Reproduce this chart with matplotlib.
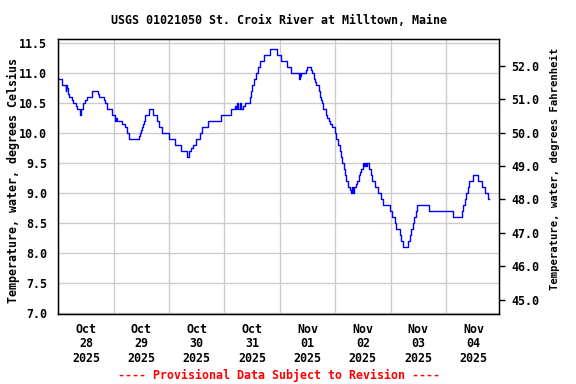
import numpy as np
import pandas as pd
import matplotlib
matplotlib.use('Agg')
from matplotlib import pyplot as plt
import matplotlib.dates as mdates
from matplotlib.ticker import FixedLocator, FormatStrFormatter

# hours since 2025-10-28 00:00 and water temperature (deg C), step breakpoints
hours = [0.0, 1.4, 3.2, 3.5, 3.6, 4.0, 4.3, 4.6, 6.1, 6.5, 7.5, 7.9, 9.4, 9.7,
         10.8, 11.5, 12.3, 14.4, 14.7, 17.3, 17.7, 19.8, 20.2, 21.2, 23.1, 24.5,
         24.8, 25.3, 27.8, 28.9, 29.6, 30.6, 35.1, 35.5, 35.9, 36.4, 36.8, 37.2,
         37.7, 39.3, 40.9, 42.6, 43.7, 45.0, 47.9, 50.5, 53.4, 55.6, 56.7, 57.7,
         58.5, 59.9, 61.3, 62.5, 64.9, 70.7, 75.0, 76.5, 77.0, 77.5, 78.0, 78.8,
         79.4, 80.0, 80.8, 83.0, 83.7, 84.1, 84.9, 85.6, 86.6, 87.3, 89.2, 91.6,
         95.0, 96.7, 99.1, 101.0, 104.3, 104.6, 104.8, 105.2, 107.5, 107.8, 109.7,
         110.1, 110.9, 111.4, 111.9, 112.9, 113.3, 114.0, 114.5, 114.7, 116.2,
         116.6, 117.2, 117.6, 118.5, 119.8, 120.5, 121.2, 121.9, 122.7, 123.1,
         123.7, 124.1, 124.8, 125.6, 126.6, 127.0, 127.3, 127.7, 128.0, 128.9,
         129.4, 130.3, 130.9, 131.3, 132.0, 132.5, 132.8, 133.5, 133.8, 134.7,
         135.4, 136.1, 137.1, 138.5, 140.0, 140.7, 143.6, 144.6, 145.8, 146.5,
         148.0, 148.4, 149.4, 151.5, 152.3, 153.0, 153.7, 154.4, 155.1, 155.4,
         160.6, 171.3, 175.1, 175.6, 176.4, 176.8, 177.5, 178.2, 179.6, 182.1,
         183.7, 185.1, 186.2, 186.6]
temp_c = [10.9, 10.8, 10.7, 10.8, 10.75, 10.7, 10.65, 10.6, 10.55, 10.5, 10.45, 10.4, 10.3, 10.4,
          10.5, 10.55, 10.6, 10.65, 10.7, 10.65, 10.6, 10.55, 10.5, 10.4, 10.3, 10.2,
          10.25, 10.2, 10.15, 10.1, 10.0, 9.9, 9.95, 10.0, 10.05, 10.1, 10.15, 10.2,
          10.3, 10.4, 10.3, 10.2, 10.1, 10.0, 9.9, 9.8, 9.7, 9.6, 9.7, 9.75,
          9.8, 9.9, 10.0, 10.1, 10.2, 10.3, 10.4, 10.45, 10.4, 10.5, 10.4, 10.5,
          10.4, 10.45, 10.5, 10.6, 10.7, 10.8, 10.9, 11.0, 11.1, 11.2, 11.3, 11.4,
          11.3, 11.2, 11.1, 11.0, 10.9, 11.0, 10.95, 11.0, 11.05, 11.1, 11.05,
          11.0, 10.9, 10.85, 10.8, 10.7, 10.6, 10.55, 10.5, 10.4, 10.3,
          10.25, 10.2, 10.15, 10.1, 10.0, 9.9, 9.8, 9.7, 9.6, 9.5,
          9.4, 9.3, 9.2, 9.1, 9.05, 9.0, 9.1, 9.0, 9.1, 9.15,
          9.2, 9.3, 9.35, 9.4, 9.5, 9.45, 9.5, 9.45, 9.5, 9.4,
          9.3, 9.2, 9.1, 9.0, 8.9, 8.8, 8.7, 8.6, 8.5, 8.4,
          8.3, 8.2, 8.1, 8.2, 8.3, 8.4, 8.5, 8.6, 8.7, 8.8,
          8.7, 8.6, 8.7, 8.8, 8.9, 9.0, 9.1, 9.2, 9.3, 9.2,
          9.1, 9.0, 8.9, 8.9]

left_ticks = [7.0, 7.5, 8.0, 8.5, 9.0, 9.5, 10.0, 10.5, 11.0, 11.5]
right_ticks = [45.0, 46.0, 47.0, 48.0, 49.0, 50.0, 51.0, 52.0]

font = 'DejaVu Sans Mono'
fs = 8.4
plt.rcParams['font.family'] = font
plt.rcParams['font.weight'] = 'bold'
plt.rcParams['font.size'] = fs

start = pd.Timestamp('2025-10-28 00:00')
times = start + pd.to_timedelta(hours, unit='h')

fig = plt.figure(figsize=(5.76, 3.84), dpi=100)
ax = fig.add_axes([0.1012, 0.181, 0.7650, 0.717])

ax.plot(times, temp_c, drawstyle='steps-post', color='#0000ff', lw=1.0)

ylim = (6.975, 11.557)
ax.set_ylim(ylim)
ax.set_xlim(start, start + pd.Timedelta(hours=191))

ax.yaxis.set_major_locator(FixedLocator(left_ticks))
ax.yaxis.set_major_formatter(FormatStrFormatter('%.1f'))
ax.xaxis.set_major_locator(mdates.DayLocator())
ax.xaxis.set_major_formatter(plt.NullFormatter())
ax.xaxis.set_minor_locator(mdates.HourLocator(byhour=[12]))
ax.xaxis.set_minor_formatter(mdates.DateFormatter('%b\n%d\n%Y'))
ax.tick_params(axis='both', which='both', length=0)
ax.tick_params(axis='y', pad=8)
ax.tick_params(axis='x', which='minor', pad=6)
for lab in ax.xaxis.get_minorticklabels():
    lab.set_linespacing(1.15)
ax.grid(True, which='major', color='#cccccc', lw=1.0)
ax.set_axisbelow(True)
for s in ax.spines.values():
    s.set_linewidth(1.0)
    s.set_color('black')

ax2 = ax.twinx()
ax2.set_ylim(ylim[0] * 9 / 5 + 32, ylim[1] * 9 / 5 + 32)
ax2.yaxis.set_major_locator(FixedLocator(right_ticks))
ax2.yaxis.set_major_formatter(FormatStrFormatter('%.1f'))
ax2.tick_params(axis='y', direction='out', length=4, width=1, pad=5)

ax.set_title('USGS 01021050 St. Croix River at Milltown, Maine', fontsize=fs,
             fontweight='bold', pad=11)
fig.text(0.024, 0.530, 'Temperature, water, degrees Celsius', rotation=90,
         ha='center', va='center')
fig.text(0.964, 0.561, 'Temperature, water, degrees Fahrenheit', rotation=90,
         ha='center', va='center', fontsize=7.6)
fig.text(0.484, 1 - 375 / 384, '---- Provisional Data Subject to Revision ----',
         color='red', ha='center', va='center')

fig.savefig('out.png', dpi=100)
